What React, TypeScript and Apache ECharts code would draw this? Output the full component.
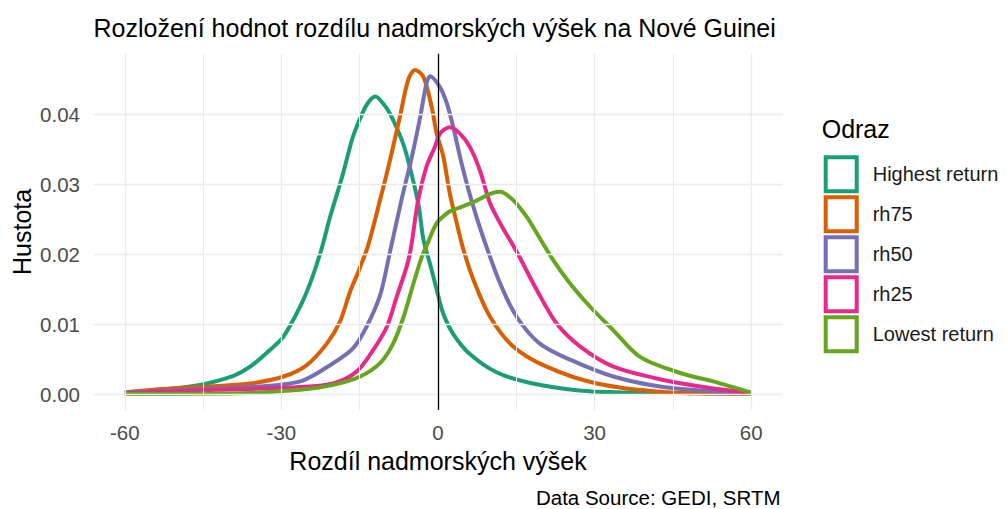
import React, { useEffect, useRef } from "react";
import * as echarts from "echarts";

const seriesNames = ["Highest return", "rh75", "rh50", "rh25", "Lowest return"];
const seriesColors = ["#1B9E77", "#D95F02", "#7570B3", "#E7298A", "#66A61E"];

const highestReturn = [
  [-60, 0.0002], [-52, 0.0007], [-45.6, 0.0013], [-39.2, 0.0026], [-36, 0.0039],
  [-32.2, 0.0063], [-29.6, 0.0082], [-26.4, 0.0125], [-24.5, 0.0158], [-22.4, 0.0205],
  [-20.6, 0.0255], [-18.3, 0.0312], [-16.4, 0.0365], [-14.9, 0.0394], [-13.5, 0.0415],
  [-12, 0.0425], [-10.5, 0.0415], [-9.1, 0.0399], [-6.6, 0.0356], [-5.0, 0.0312],
  [-3.7, 0.0269], [-2.8, 0.0221], [-1.5, 0.0185], [-0.25, 0.0149], [1.0, 0.0115],
  [2.9, 0.0086], [6.1, 0.0057], [11.2, 0.0031], [17.5, 0.0016], [27, 0.0005],
  [36.6, 0.0002], [50, 0.0001], [60, 0.0]
];
const rh75 = [
  [-60, 0.0002], [-54.5, 0.0006], [-45.6, 0.001], [-36, 0.0015], [-29.6, 0.0025],
  [-25.2, 0.0041], [-21.3, 0.0072], [-18.8, 0.0103], [-16.9, 0.0145], [-15.3, 0.0174],
  [-13.4, 0.0212], [-11.1, 0.0277], [-9.2, 0.0334], [-7.3, 0.0396], [-5.7, 0.0449],
  [-4.4, 0.0463], [-2.8, 0.0453], [-1.2, 0.041], [-0.25, 0.0372], [1.0, 0.034],
  [2.3, 0.0285], [3.6, 0.0244], [4.8, 0.0208], [6.8, 0.0163], [10, 0.011],
  [14.4, 0.0068], [20.8, 0.0039], [30.4, 0.0015], [43.2, 0.0003], [60, 0.0]
];
const rh50 = [
  [-60, 0.0002], [-48.8, 0.0006], [-36, 0.001], [-26.4, 0.0018], [-20.1, 0.0044],
  [-16.2, 0.0066], [-13.7, 0.0096], [-11.1, 0.0141], [-9.2, 0.0203], [-7.0, 0.0277],
  [-5.0, 0.0339], [-3.4, 0.0396], [-2.2, 0.0444], [-1.5, 0.0454], [0.4, 0.0438],
  [1.7, 0.0415], [2.9, 0.0382], [4.5, 0.033], [6.4, 0.0277], [8.6, 0.0225],
  [11.9, 0.0158], [15.1, 0.011], [19.5, 0.0072], [25.3, 0.0049], [33.6, 0.0025],
  [43.2, 0.001], [55.9, 0.0002], [60, 0.0001]
];
const rh25 = [
  [-60, 0.0001], [-42.4, 0.0006], [-26.4, 0.001], [-20.1, 0.0015], [-15.6, 0.0032],
  [-12.4, 0.0063], [-9.8, 0.0096], [-7.9, 0.0139], [-6.0, 0.0182], [-5.2, 0.0208],
  [-3.8, 0.0277], [-2.2, 0.0325], [-0.6, 0.0353], [0.4, 0.0372], [2.2, 0.0381],
  [4.2, 0.0372], [6.1, 0.0353], [8.0, 0.032], [10, 0.0272], [12.2, 0.024],
  [15.1, 0.0203], [18.9, 0.0149], [22.7, 0.0101], [27.2, 0.0068], [33.6, 0.0039],
  [43.2, 0.002], [52.7, 0.0008], [60, 0.0002]
];
const lowestReturn = [
  [-60, 0.0], [-38, 0.0001], [-26.4, 0.0006], [-20.1, 0.0013], [-14.9, 0.0025],
  [-11.1, 0.0044], [-8.6, 0.0072], [-6.6, 0.011], [-4.7, 0.0158], [-3.1, 0.0196],
  [-2.0, 0.0215], [-0.25, 0.0244], [1.7, 0.0258], [2.9, 0.0263], [6.8, 0.0274],
  [10, 0.0286], [11.9, 0.0289], [14.4, 0.0277], [17, 0.0253], [18.9, 0.023],
  [22.1, 0.0191], [25.3, 0.0158], [29.1, 0.0125], [33.6, 0.0091], [38.7, 0.0053],
  [46.4, 0.003], [52.7, 0.0018], [60, 0.0002]
];
const seriesData = [highestReturn, rh75, rh50, rh25, lowestReturn];

const xTicks = [-60, -30, 0, 30, 60];
const xGridValues = [-60, -45, -30, -15, 0, 15, 30, 45, 60];
const yTicks = [0, 0.01, 0.02, 0.03, 0.04];
const yGridValues = [0, 0.005, 0.01, 0.015, 0.02, 0.025, 0.03, 0.035, 0.04, 0.045];
const xRange = [-66, 66];
const yRange = [-0.0023, 0.0486];

const FONT = "Liberation Sans, Arial, sans-serif";

export default function App() {
  const ref = useRef<HTMLDivElement>(null);
  useEffect(() => {
    if (!ref.current) return;
    const chart = echarts.init(ref.current, null, { renderer: "svg" });
    const gridLeft = 93.5;
    const gridRight = 782.5;
    const gridTop = 53.8;
    const gridBottom = 410.1;
    const option: any = {
      animation: false,
      backgroundColor: "#ffffff",
      textStyle: { fontFamily: FONT },
      grid: {
        left: gridLeft,
        top: gridTop,
        width: gridRight - gridLeft,
        height: gridBottom - gridTop,
        containLabel: false,
      },
      xAxis: {
        type: "value",
        min: xRange[0],
        max: xRange[1],
        axisLine: { show: false },
        axisTick: { show: false },
        splitLine: { show: false },
        axisLabel: {
          customValues: xTicks,
          color: "#4D4D4D",
          fontSize: 20.5,
          fontFamily: FONT,
          margin: 12,
          formatter: (v: number) => String(v),
        },
      },
      yAxis: {
        type: "value",
        min: yRange[0],
        max: yRange[1],
        axisLine: { show: false },
        axisTick: { show: false },
        splitLine: { show: false },
        axisLabel: {
          customValues: yTicks,
          color: "#4D4D4D",
          fontSize: 20.5,
          fontFamily: FONT,
          margin: 13.5,
          formatter: (v: number) => v.toFixed(2),
        },
      },
      legend: {
        orient: "vertical",
        left: 823.7,
        top: 155.3,
        icon: "rect",
        itemWidth: 31,
        itemHeight: 34,
        itemGap: 2,
        selectedMode: false,
        padding: 0,
        textStyle: {
          fontSize: 20,
          color: "#1A1A1A",
          fontFamily: FONT,
          padding: [0, 0, 0, 11],
        },
        data: seriesNames.map((n, i) => ({
          name: n,
          itemStyle: { color: "#ffffff", borderColor: seriesColors[i], borderWidth: 4 },
        })),
      },
      graphic: [
        {
          type: "text",
          x: 93.5,
          y: 27.7,
          style: {
            text: "Rozložení hodnot rozdílu nadmorských výšek na Nové Guinei",
            fontSize: 25,
            fontFamily: FONT,
            fill: "#000",
            align: "left",
            verticalAlign: "middle",
          },
        },
        {
          type: "text",
          x: (gridLeft + gridRight) / 2,
          y: 460.8,
          style: {
            text: "Rozdíl nadmorských výšek",
            fontSize: 25,
            fontFamily: FONT,
            fill: "#000",
            align: "center",
            verticalAlign: "middle",
          },
        },
        {
          type: "text",
          x: 21.7,
          y: (gridTop + gridBottom) / 2,
          rotation: Math.PI / 2,
          style: {
            text: "Hustota",
            fontSize: 25,
            fontFamily: FONT,
            fill: "#000",
            align: "center",
            verticalAlign: "middle",
          },
        },
        {
          type: "text",
          x: 821.7,
          y: 129.2,
          style: {
            text: "Odraz",
            fontSize: 25,
            fontFamily: FONT,
            fill: "#000",
            align: "left",
            verticalAlign: "middle",
          },
        },
        {
          type: "text",
          x: gridRight - 2,
          y: 497.5,
          style: {
            text: "Data Source: GEDI, SRTM",
            fontSize: 20.5,
            fontFamily: FONT,
            fill: "#000",
            align: "right",
            verticalAlign: "middle",
          },
        },
      ],
      series: [
        {
          name: "grid",
          type: "line",
          z: 0,
          data: [[0, 0]],
          showSymbol: false,
          symbol: "none",
          lineStyle: { width: 0, opacity: 0 },
          silent: true,
          markLine: {
            silent: true,
            symbol: ["none", "none"],
            label: { show: false },
            animation: false,
            data: [
              ...xGridValues.map((v) => ({
                xAxis: v,
                lineStyle: { color: "#EBEBEB", width: v % 30 === 0 ? 1.3 : 1, type: "solid" },
              })),
              ...yGridValues.map((v) => ({
                yAxis: v,
                lineStyle: {
                  color: "#EBEBEB",
                  width: Math.abs((v * 100) % 1) < 1e-6 ? 1.3 : 1,
                  type: "solid",
                },
              })),
            ],
          },
        },
        ...seriesNames.map((n, i) => ({
          name: n,
          type: "line",
          z: 2,
          data: seriesData[i],
          showSymbol: false,
          symbol: "none",
          smooth: 0.3,
          color: seriesColors[i],
          lineStyle: { color: seriesColors[i], width: 4 },
        })),
        {
          name: "vline",
          type: "line",
          z: 5,
          data: [[0, 0]],
          showSymbol: false,
          symbol: "none",
          lineStyle: { width: 0, opacity: 0 },
          silent: true,
          markLine: {
            silent: true,
            symbol: ["none", "none"],
            label: { show: false },
            animation: false,
            data: [{ xAxis: 0, lineStyle: { color: "#000", width: 1.3, type: "solid" } }],
          },
        },
      ],
    };
    chart.setOption(option);
    return () => chart.dispose();
  }, []);
  return (
    <div
      ref={ref}
      style={{ position: "absolute", left: 0, top: 0, width: 1007, height: 509 }}
    />
  );
}
